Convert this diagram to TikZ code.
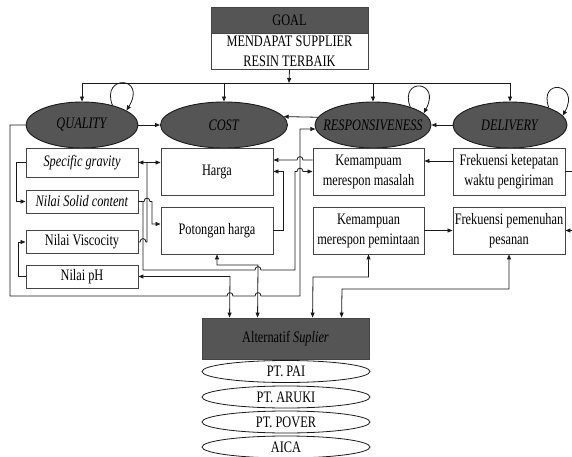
\documentclass[tikz,border=0pt]{standalone}
\usepackage{fontspec}
\setmainfont{Liberation Serif}[FakeStretch=0.77]
\usetikzlibrary{arrows.meta,shapes.geometric,calc}
\definecolor{dk}{HTML}{555555}
\definecolor{bd}{HTML}{444444}
\definecolor{ln}{HTML}{1a1a1a}
\begin{document}
\begin{tikzpicture}[x=1pt,y=-1pt,
  every node/.style={font=\fontsize{16}{20}\selectfont, inner sep=0pt},
  bx/.style={draw=bd, line width=0.9pt, rectangle, align=center, fill=white},
  dkbox/.style={draw=bd, line width=0.9pt, rectangle, align=center, fill=dk},
  crit/.style={draw=ln, line width=0.9pt, ellipse, fill=dk, minimum height=46},
  alte/.style={draw=ln, line width=0.8pt, ellipse, fill=white, minimum width=168, minimum height=22},
  conn/.style={draw=ln, line width=0.8pt},
  arr/.style={conn, -{Triangle[length=5pt,width=4pt]}},
  barr/.style={conn, {Triangle[length=5pt,width=4pt]}-{Triangle[length=5pt,width=4pt]}},
  rarr/.style={conn, {Triangle[length=5pt,width=4pt]}-},
  hmp/.style 2 args={insert path={-- ({#1-3},#2) .. controls ({#1-3},{#2-4.5}) and ({#1+3},{#2-4.5}) .. ({#1+3},#2)}}
]
\useasboundingbox (0,0) rectangle (572,457);

% goal
\node[dkbox, minimum width=157, minimum height=26] (goal) at (289.5,20) {GOAL};
\node[bx, minimum width=157, minimum height=36] (goaltxt) at (289.5,51) {MENDAPAT SUPPLIER\\RESIN TERBAIK};

% criteria
\node[crit, minimum width=112] (q) at (82,125) {\makebox[0pt]{\textit{QUALITY}}};
\node[crit, minimum width=127] (c) at (224,125) {\makebox[0pt]{\textit{COST}}};
\node[crit, minimum width=116] (r) at (373,125) {\makebox[0pt]{\textit{RESPONSIVENESS}}};
\node[crit, minimum width=114] (d) at (510,125) {\makebox[0pt]{\textit{DELIVERY}}};

% sub-criteria
\node[bx, minimum width=112, minimum height=29] (sg) at (82,162.5) {\textit{Specific gravity}};
\node[bx, minimum width=112, minimum height=23] (nsc) at (82,201.5) {\textit{Nilai Solid content}};
\node[bx, minimum width=112, minimum height=23] (vis) at (82,242) {Nilai Viscocity};
\node[bx, minimum width=112, minimum height=23] (ph) at (82,276.5) {Nilai pH};
\node[bx, minimum width=112, minimum height=47] (h) at (217,171.5) {Harga};
\node[bx, minimum width=112, minimum height=47] (pot) at (217,230.5) {Potongan harga};
\node[bx, minimum width=111, minimum height=47] (km) at (368.5,171.5) {Kemampuam\\merespon masalah};
\node[bx, minimum width=112, minimum height=47] (fk) at (509,171.5) {Frekuensi ketepatan\\waktu pengiriman};
\node[bx, minimum width=111, minimum height=47] (kp) at (368.5,230.5) {Kemampuan\\merespon pemintaan};
\node[bx, minimum width=112, minimum height=47] (fp) at (509,230.5) {Frekuensi pemenuhan\\pesanan};

% alternatives
\node[dkbox, minimum width=167, minimum height=41] (alt) at (285.5,338.5) {Alternatif \textit{Suplier}};
\node[alte] (a1) at (286,371.5) {PT. PAI};
\node[alte] (a2) at (286,397) {PT. ARUKI};
\node[alte] (a3) at (286,422) {PT. POVER};
\node[alte] (a4) at (286,447) {AICA};

\coordinate (bus) at (289,83);
\coordinate (offa) at (572,171.5);
\coordinate (offb) at (572,230.5);

% goal to criteria
\draw[arr] (goaltxt.south) -- (bus);
\draw[conn] (q.north |- bus) -- (d.north |- bus);
\foreach \n in {q,c,r,d} \draw[arr] (\n.north |- bus) -- (\n.north);

% loops
\draw[arr] (q.33) .. controls +(-12,-31) and +(21,-35) .. (q.18);
\draw[arr] (r.26) .. controls +(-11,-30) and +(18,-33) .. (r.13);
\draw[arr] (d.24) .. controls +(-11,-30) and +(18,-33) .. (d.10);

% between criteria
\draw[arr] (q.east) -- (c.west);
\draw[arr] (r.172) -- (c.8);
\draw[arr] (d.west) -- (r.east);

% frame quality -> responsiveness
\draw[arr] (q.west) -- (10,125) -- (10,296) [hmp={230}{296}] [hmp={258}{296}] -- (300,296) -- (300,129) -- (r.184);

% quality internal
\draw[arr] (sg.west) -- (16,162.5) |- (nsc.west);
\draw[arr] (ph.west) -- (18,276.5) |- (vis.west);

% quality to cost etc.
\draw[arr] (sg.east) -- (h.west |- sg.east);
\draw[arr] (vis.east) [hmp={143}{242}] -- (147,242) -- (147,162.5) -- (sg.east);
\draw[arr] (nsc.east) [hmp={147}{201.5}] -- (152,201.5) -- (152,224) -- (pot.west |- 152,224);
\draw[arr] (nsc.east) -- (143,201.5) -- (143,270) [hmp={258}{270}] -- (295,270) -- (295,171.5) [hmp={300}{171.5}] -- (km.west);
\draw[arr] (pot.east) -- (283,230.5) -- (283,171.5) -- (h.east);
\draw[rarr] ($(h.east)+(0,-11.5)$) [hmp={300}{160}] -- ($(km.west)+(0,-11.5)$);

% right side
\draw[arr] ($(fk.west)+(0,-10.5)$) -- ($(km.east)+(0,-10.5)$);
\draw[arr] (kp.east) -- (fp.west);
\draw[conn] (fk.east) -- (offa);
\draw[arr] (offb) -- (fp.east);

% to alternatives
\draw[barr] (ph.east) -- (230,276.5) -- ($(alt.north west)+(28,0)$);
\draw[barr] (pot.south) -- (217,265) -- (258,265) -- ($(alt.north west)+(56,0)$);
\draw[barr] (kp.south) -- (368.5,277) -- (313,277) -- ($(alt.north west)+(111,0)$);
\draw[barr] (fp.south) -- (509,289) -- (342,289) -- ($(alt.north west)+(140,0)$);
\end{tikzpicture}
\end{document}
